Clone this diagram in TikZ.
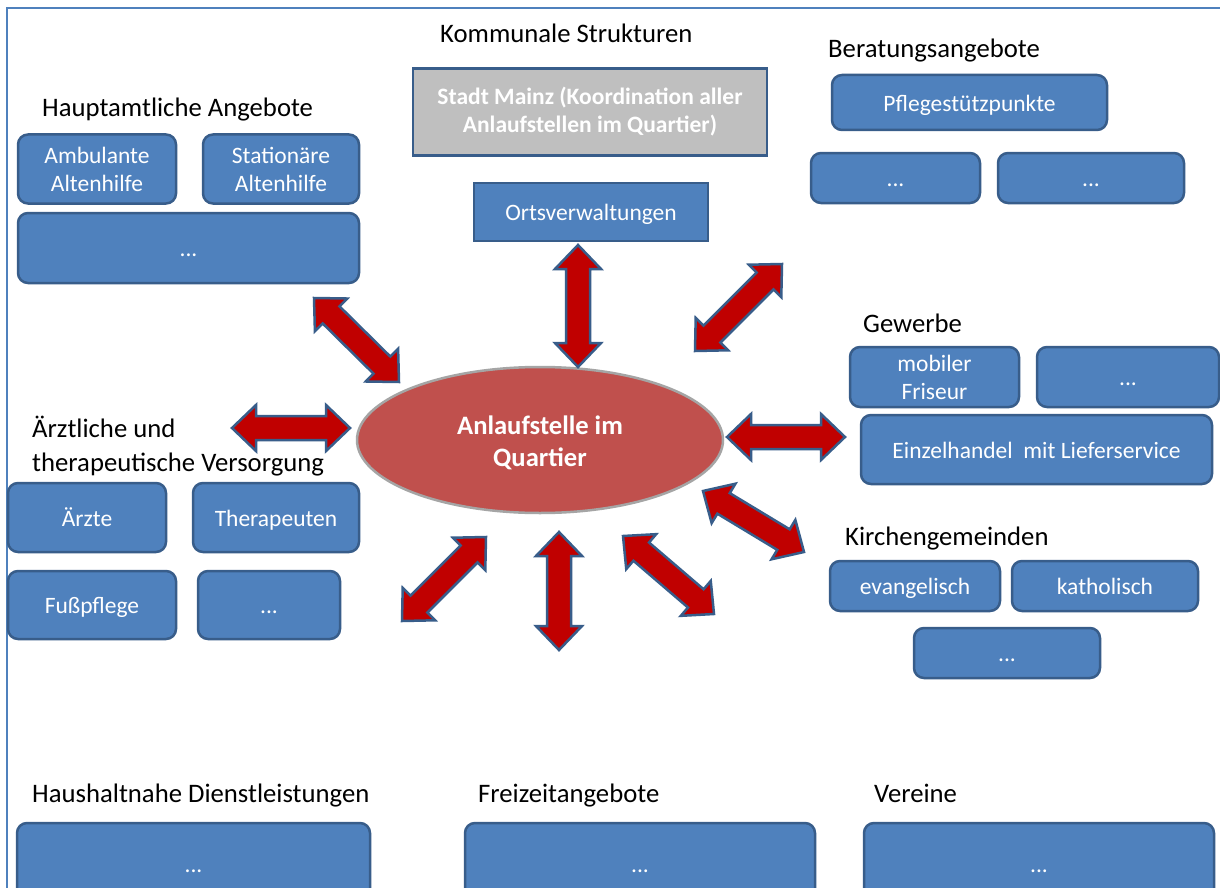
\documentclass[tikz,border=0pt]{standalone}
\usepackage{fontspec}
\setmainfont{Carlito}
\usetikzlibrary{calc,shapes.geometric}
\definecolor{boxblue}{HTML}{4F81BD}
\definecolor{boxedge}{HTML}{385D8A}
\definecolor{ellred}{HTML}{C0504D}
\definecolor{arrred}{HTML}{C00000}
\definecolor{stadtgray}{HTML}{BFBFBF}
\definecolor{ellgray}{HTML}{A5A5A5}
\tikzset{
  rbox/.style={draw=boxedge, line width=2.5pt, fill=boxblue, rounded corners=10pt, text=white,
    font=\fontsize{23.5}{28}\selectfont, align=center, inner sep=0pt},
  sbox/.style={rbox, rounded corners=0pt},
  oneline/.style={text height=19pt, text depth=1.3pt},
  lbl/.style={anchor=base west, inner sep=0pt, font=\fontsize{26.7}{32}\selectfont, text=black},
  blockarrow/.style={draw=boxedge, fill=arrred, line width=2.5pt, line join=miter},
}
\newcommand\dblarrow[2]{%
  \draw[blockarrow] (#1)
    -- ($(#1)!24pt!(#2)!23pt!90:(#2)$)
    -- ($(#1)!24pt!(#2)!12pt!90:(#2)$)
    -- ($(#2)!24pt!(#1)!12pt!-90:(#1)$)
    -- ($(#2)!24pt!(#1)!23pt!-90:(#1)$)
    -- (#2)
    -- ($(#2)!24pt!(#1)!23pt!90:(#1)$)
    -- ($(#2)!24pt!(#1)!12pt!90:(#1)$)
    -- ($(#1)!24pt!(#2)!12pt!-90:(#2)$)
    -- ($(#1)!24pt!(#2)!23pt!-90:(#2)$)
    -- cycle;}
\begin{document}
\begin{tikzpicture}[x=1pt,y=-1pt]
\useasboundingbox (0,0) rectangle (1220,888);
\clip (0,0) rectangle (1220,888);
\fill[white] (0,0) rectangle (1220,888);
\draw[boxblue, line width=2pt] (7,890) -- (7,8) -- (1222,8);

% labels
\node[lbl] (lkom) at (440,43) {Kommunale Strukturen};
\node[lbl] (lhaupt) at (42,117) {Hauptamtliche Angebote};
\node[lbl] (lber) at (828,58) {Beratungsangebote};
\node[lbl] (lgew) at (863,332) {Gewerbe};
\node[lbl] (lkir) at (845,545) {Kirchengemeinden};
\node[lbl] (laerz1) at (32,437) {Ärztliche und};
\node[lbl] (laerz2) at (32,471) {therapeutische Versorgung};
\node[lbl] (lhaus) at (32,802) {Haushaltnahe Dienstleistungen};
\node[lbl] (lfrei) at (478,802) {Freizeitangebote};
\node[lbl] (lver) at (874,802) {Vereine};

% Kommunale Strukturen
\node[sbox, fill=stadtgray, font=\bfseries\fontsize{23.5}{28}\selectfont, minimum width=354pt, minimum height=87pt] (stadt) at (590,112) {Stadt Mainz (Koordination aller\\Anlaufstellen im Quartier)};
\node[sbox, oneline, minimum width=234pt, minimum height=58pt] (orts) at (591,212) {Ortsverwaltungen};

% Hauptamtliche Angebote
\node[rbox, minimum width=158pt, minimum height=69pt] (amb) at (97,169) {Ambulante\\Altenhilfe};
\node[rbox, minimum width=156pt, minimum height=69pt] (stat) at (281,169) {Stationäre\\Altenhilfe};
\node[rbox, oneline, minimum width=341pt, minimum height=70pt] (hdots) at (188.5,248) {...};

% Beratungsangebote
\node[rbox, oneline, minimum width=275pt, minimum height=55pt] (pfleg) at (969.5,102.5) {Pflegestützpunkte};
\node[rbox, oneline, minimum width=169pt, minimum height=50pt] (bdots1) at (895.5,178) {...};
\node[rbox, oneline, minimum width=186pt, minimum height=50pt] (bdots2) at (1091,178) {...};

% Gewerbe
\node[rbox, minimum width=169pt, minimum height=60pt] (fris) at (934.5,377) {mobiler\\Friseur};
\node[rbox, oneline, minimum width=182pt, minimum height=60pt] (gdots) at (1128,377) {...};
\node[rbox, oneline, minimum width=351pt, minimum height=69pt] (einz) at (1036.5,449.5) {Einzelhandel\ \ mit Lieferservice};

% Kirchengemeinden
\node[rbox, oneline, minimum width=170pt, minimum height=50pt] (evan) at (915,586) {evangelisch};
\node[rbox, oneline, minimum width=186pt, minimum height=50pt] (kath) at (1105,586) {katholisch};
\node[rbox, oneline, minimum width=186pt, minimum height=50pt] (kdots) at (1007,653) {...};

% Aerztliche Versorgung
\node[rbox, oneline, minimum width=158pt, minimum height=69pt] (aerz) at (87,517.5) {Ärzte};
\node[rbox, oneline, minimum width=166pt, minimum height=69pt] (ther) at (276,517.5) {Therapeuten};
\node[rbox, oneline, minimum width=168pt, minimum height=68pt] (fuss) at (92,605) {Fußpflege};
\node[rbox, oneline, minimum width=142pt, minimum height=68pt] (adots) at (269,605) {...};

% bottom
\node[rbox, oneline, minimum width=353pt, minimum height=82pt] (haus) at (193.5,864) {...};
\node[rbox, oneline, minimum width=350pt, minimum height=82pt] (frei) at (640,864) {...};
\node[rbox, oneline, minimum width=350pt, minimum height=82pt] (ver) at (1039,864) {...};

% centre
\node[ellipse, draw=ellgray, line width=2.5pt, fill=ellred, minimum width=366pt, minimum height=146pt,
  text=white, font=\bfseries\fontsize{26.6}{32}\selectfont, align=center, inner sep=0pt] (centre) at (540,440) {\rule{0pt}{25pt}Anlaufstelle im\\Quartier};

% arrow end points
\coordinate (a1s) at (578,245); \coordinate (a1e) at (578,367);
\coordinate (a2s) at (782,264); \coordinate (a2e) at (695,351);
\coordinate (a3s) at (314,298); \coordinate (a3e) at (399,382);
\coordinate (a4s) at (232,428); \coordinate (a4e) at (350,428);
\coordinate (a5s) at (727,437); \coordinate (a5e) at (845,437);
\coordinate (a6s) at (703,491); \coordinate (a6e) at (804,552);
\coordinate (a7s) at (486,537); \coordinate (a7e) at (402,621);
\coordinate (a8s) at (559,532); \coordinate (a8e) at (559,650);
\coordinate (a9s) at (623,536); \coordinate (a9e) at (714,614);
\dblarrow{a1s}{a1e}
\dblarrow{a2s}{a2e}
\dblarrow{a3s}{a3e}
\dblarrow{a4s}{a4e}
\dblarrow{a5s}{a5e}
\dblarrow{a6s}{a6e}
\dblarrow{a7s}{a7e}
\dblarrow{a8s}{a8e}
\dblarrow{a9s}{a9e}
\end{tikzpicture}
\end{document}
